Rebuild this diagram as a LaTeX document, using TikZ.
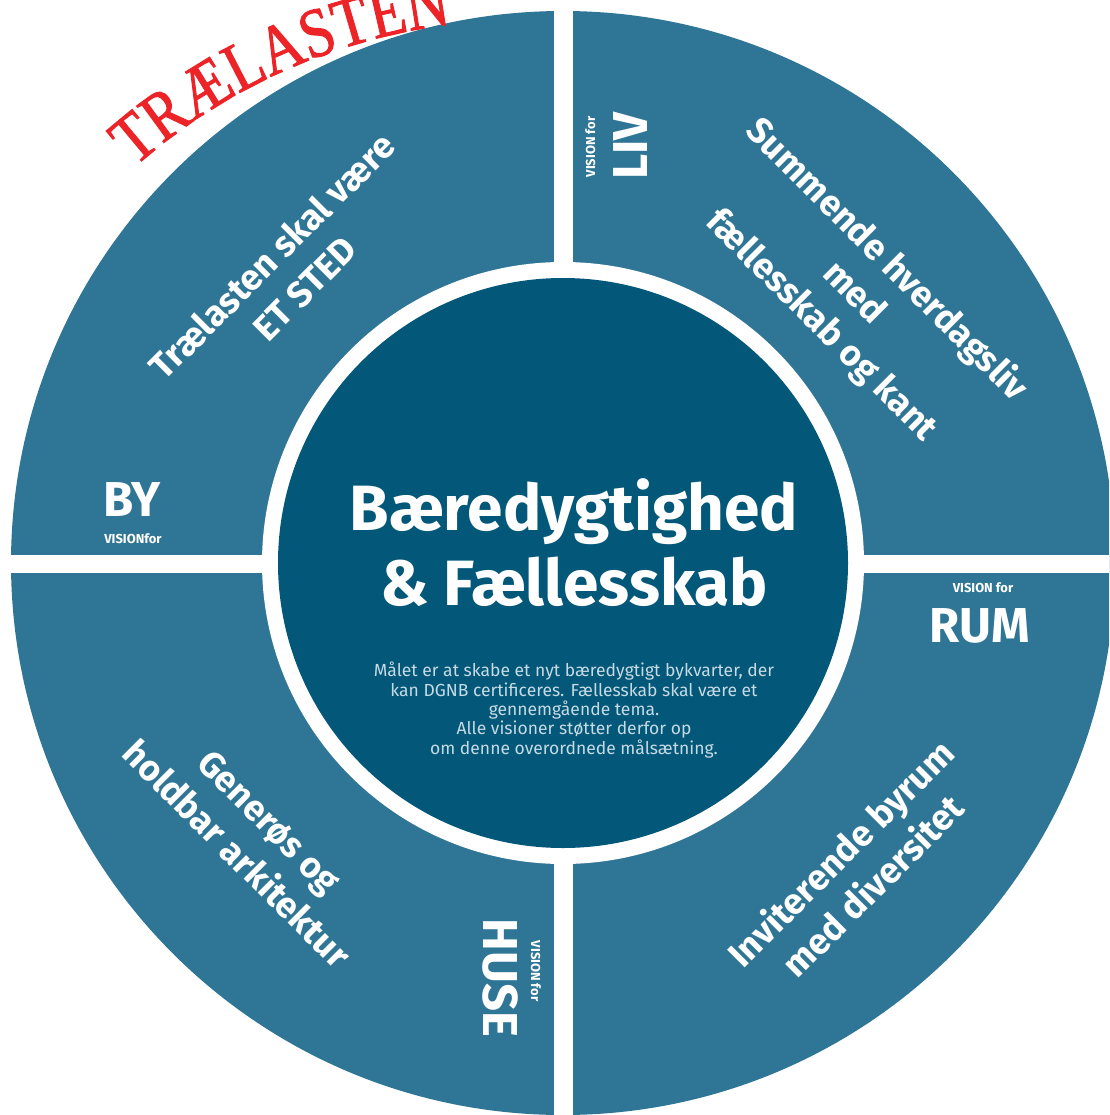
\documentclass[tikz,border=0pt]{standalone}
\usepackage{fontspec}
\setmainfont{Fira Sans}
\newfontfamily\serifred{Liberation Serif}[FakeStretch=0.84, FakeBold=1.3]
\usepackage{xcolor}
\usetikzlibrary{decorations.text}

\definecolor{ringblue}{RGB}{47,117,149}
\definecolor{coreblue}{RGB}{3,87,120}
\definecolor{stampred}{RGB}{236,36,40}
\definecolor{notegrey}{RGB}{198,218,228}

\tikzset{
	vision/.style={text=white, font=\bfseries\fontsize{36}{46}\selectfont, align=center, inner sep=0pt},
	biglabel/.style={text=white, font=\bfseries\fontsize{49}{49}\selectfont, inner sep=0pt, anchor=base},
	smalllabel/.style={text=white, font=\bfseries\fontsize{13}{13}\selectfont, inner sep=0pt, anchor=base}
}

\begin{document}
\begin{tikzpicture}[x=1pt,y=-1pt]
		\useasboundingbox (0,0) rectangle (1109,1115);
		\clip (0,0) rectangle (1109,1115);
		
		% draw the big disc and cut it in four with a white cross
		\fill[ringblue] (563,563) circle[radius=552pt];
		\fill[white] (553.5,0) rectangle (572.5,1115);
		\fill[white] (0,555) rectangle (1109,573);
		
		% draw the white ring and the centre disc
		\fill[white] (563,563) circle[radius=301pt];
		\fill[coreblue] (563,563) circle[radius=285pt];
		
		% red title along the rim
		\path[
		decoration={text along path, text align=left,
			text={|\serifred\fontsize{70}{70}\selectfont\color{stampred}|TRÆLASTEN}},
		decorate
		]
		(523,606) ++(131.5:586pt) arc[start angle=131.5, end angle=40, radius=586pt];
		
		% the four visions
		\node[vision, rotate=45] (bytext) at (288,272) {Trælasten skal være\\ET STED};
		\node[vision, rotate=-45] (livtext) at (854,293) {Summende hverdagsliv\\med\\fællesskab og kant};
		\node[vision, rotate=-45] (husetext) at (253,838) {Generøs og\\holdbar arkitektur};
		\node[vision, rotate=45] (rumtext) at (856,869) {Inviterende byrum\\med diversitet};
		
		% the quarter names
		\node[biglabel] (by) at (132,516) {BY};
		\node[smalllabel] (byfor) at (133,543) {VISIONfor};
		\node[smalllabel] (rumfor) at (983,592) {VISION for};
		\node[biglabel] (rum) at (980,642) {RUM};
		\node[smalllabel, rotate=90] (livfor) at (595,147) {VISION for};
		\node[biglabel, rotate=90] (liv) at (647,146) {LIV};
		\node[smalllabel, rotate=-90] (husefor) at (531,971) {VISION for};
		\node[biglabel, rotate=-90] (huse) at (483,978) {HUSE};
		
		% centre text
		\node[text=white, font=\bfseries\fontsize{64}{64}\selectfont, inner sep=0pt, anchor=base] (title) at (574,530) {Bæredygtighed};
		\node[text=white, font=\bfseries\fontsize{64}{64}\selectfont, inner sep=0pt, anchor=base] (subtitle) at (574,605) {\& Fællesskab};
		\node[text=notegrey, font=\fontsize{17.5}{19.3}\selectfont, align=center, inner sep=0pt] (note) at (574,710)
		{Målet er at skabe et nyt bæredygtigt bykvarter, der\\kan DGNB certificeres. Fællesskab skal være et\\gennemgående tema.\\Alle visioner støtter derfor op\\om denne overordnede målsætning.};
\end{tikzpicture}
\end{document}
